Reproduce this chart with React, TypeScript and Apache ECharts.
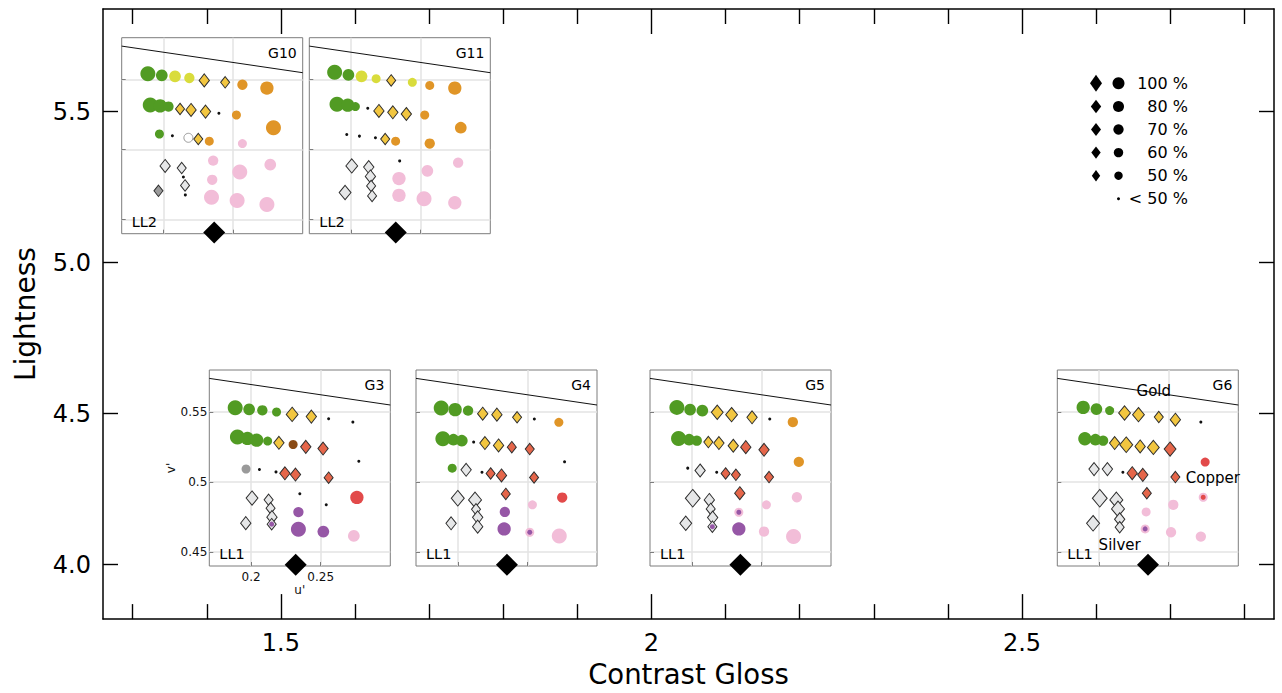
import { useEffect, useRef } from 'react';
import * as echarts from 'echarts';

// ---------- main axes ----------
const xMajorTicks = [1.5, 2, 2.5];
const xMinorTicks = [1.3, 1.4, 1.6, 1.7, 1.8, 1.9, 2.1, 2.2, 2.3, 2.4, 2.6, 2.7, 2.8];
const yMajorTicks = [4.0, 4.5, 5.0, 5.5];

// ---------- conditions (main scatter) ----------
const insetNames = ['G3', 'G4', 'G5', 'G6', 'G10', 'G11'];
const insetLighting = ['LL1', 'LL1', 'LL1', 'LL1', 'LL2', 'LL2'];
const contrastGloss = [1.52, 1.805, 2.12, 2.67, 1.41, 1.655];
const lightness = [4.0, 4.0, 4.0, 4.0, 5.1, 5.1];

// ---------- inset (u', v') axes ----------
const insetUTicks = [0.2, 0.25];
const insetVTicks = [0.45, 0.5, 0.55];
const locusLine = [[0.17, 0.574], [0.30, 0.555]];

// [u', v', kind, percent level]
const g3Points = [
  [0.1886, 0.5531, 'G', 100], [0.1986, 0.5519, 'G', 70], [0.2081, 0.5512, 'G', 60], [0.2183, 0.55, 'G', 50],
  [0.2295, 0.5483, 'd', 70], [0.2433, 0.5467, 'd', 60], [0.2557, 0.5452, '.', 0], [0.2731, 0.5428, '.', 0],
  [0.1902, 0.5321, 'G', 100], [0.1974, 0.5311, 'G', 80], [0.204, 0.5299, 'G', 80], [0.2119, 0.5292, 'G', 50],
  [0.22, 0.528, 'd', 60], [0.2302, 0.5268, 'B', 50], [0.2393, 0.5251, 'r', 60], [0.2517, 0.5239, 'r', 60],
  [0.2774, 0.5148, '.', 0],
  [0.1964, 0.5093, 'A', 50], [0.206, 0.5089, '.', 0], [0.2179, 0.5072, '.', 0], [0.2243, 0.5062, 'r', 60],
  [0.2319, 0.5053, 'r', 60], [0.2557, 0.5031, 'r', 50],
  [0.2007, 0.4885, 's', 70], [0.2126, 0.4873, 's', 50], [0.214, 0.4813, 's', 50], [0.215, 0.4749, 's', 60],
  [0.2148, 0.4699, 'sP', 50], [0.1962, 0.4706, 's', 60], [0.235, 0.4916, '.', 0], [0.254, 0.4837, '.', 0],
  [0.276, 0.489, 'R', 80], [0.234, 0.4785, 'P', 60], [0.234, 0.4663, 'P', 100], [0.2519, 0.4646, 'P', 70],
  [0.2738, 0.4615, 'K', 70],
];
const g4Points = [
  [0.1881, 0.5529, 'G', 100], [0.1981, 0.5517, 'G', 80], [0.2074, 0.551, 'G', 60], [0.2179, 0.5488, 'd', 60],
  [0.2281, 0.5481, 'd', 60], [0.2426, 0.5462, 'd', 50], [0.255, 0.545, '.', 0], [0.2726, 0.5426, 'O', 50],
  [0.1893, 0.5309, 'G', 100], [0.1969, 0.5302, 'G', 70], [0.2029, 0.5295, 'G', 70], [0.2114, 0.5285, '.', 0],
  [0.2195, 0.5278, 'd', 60], [0.2293, 0.5261, 'd', 60], [0.2388, 0.5249, 'r', 50], [0.2517, 0.5235, 'r', 50],
  [0.2767, 0.5144, '.', 0],
  [0.196, 0.5099, 'G', 50], [0.206, 0.5087, 's', 60], [0.2174, 0.507, '.', 0], [0.2236, 0.5061, 'r', 50],
  [0.2314, 0.5047, 'r', 60], [0.2548, 0.5032, 'r', 50],
  [0.2, 0.4884, 's', 80], [0.2124, 0.4872, 's', 80], [0.2131, 0.4805, 's', 50], [0.2143, 0.4748, 's', 60],
  [0.2143, 0.4681, 's', 60], [0.1952, 0.4705, 's', 60], [0.2345, 0.4915, 'r', 50], [0.275, 0.4889, 'R', 60],
  [0.2536, 0.4837, 'K', 50], [0.2338, 0.4786, 'P', 60], [0.2333, 0.4665, 'P', 80], [0.2517, 0.4641, 'KP', 50],
  [0.2729, 0.4615, 'K', 100],
];
const g5Points = [
  [0.1893, 0.5533, 'G', 100], [0.1988, 0.5517, 'G', 70], [0.2076, 0.551, 'G', 70], [0.2183, 0.5498, 'd', 70],
  [0.2286, 0.5481, 'd', 70], [0.2433, 0.5462, 'd', 60], [0.256, 0.545, '.', 0], [0.2726, 0.5428, 'O', 60],
  [0.1905, 0.5311, 'G', 100], [0.1981, 0.5302, 'G', 70], [0.2036, 0.5295, 'G', 60], [0.2119, 0.5285, 'd', 50],
  [0.2195, 0.5278, 'd', 60], [0.2298, 0.5259, 'd', 60], [0.2388, 0.5249, 'r', 60], [0.2519, 0.523, 'r', 60],
  [0.2769, 0.5144, 'O', 60],
  [0.1971, 0.5099, '.', 0], [0.206, 0.5082, 's', 60], [0.2179, 0.507, '.', 0], [0.2243, 0.5061, 'r', 50],
  [0.2317, 0.5051, 'r', 50], [0.2555, 0.5035, 'r', 50],
  [0.2007, 0.4884, 's', 100], [0.2126, 0.4872, 's', 60], [0.2136, 0.4808, 's', 50], [0.215, 0.4746, 's', 60],
  [0.2148, 0.4681, 'sP', 50], [0.1957, 0.4705, 's', 70], [0.2345, 0.492, 'r', 60], [0.2536, 0.4837, 'K', 50],
  [0.2755, 0.4891, 'K', 60], [0.2338, 0.4784, 'KP', 50], [0.2338, 0.4665, 'P', 80], [0.2519, 0.4646, 'K', 60],
  [0.2731, 0.461, 'K', 100],
];
const g6Points = [
  [0.1886, 0.5533, 'G', 80], [0.1981, 0.5521, 'G', 70], [0.2076, 0.551, 'G', 50], [0.2183, 0.5493, 'd', 70],
  [0.2283, 0.5481, 'd', 70], [0.2429, 0.5464, 'd', 50], [0.2548, 0.5445, 'd', 60], [0.2731, 0.5428, '.', 0],
  [0.1898, 0.5309, 'G', 80], [0.1974, 0.5302, 'G', 70], [0.2029, 0.5295, 'G', 60], [0.2112, 0.5278, 'd', 60],
  [0.2195, 0.5266, 'd', 80], [0.2295, 0.5254, 'd', 60], [0.239, 0.5247, 'd', 70], [0.251, 0.5235, 'r', 70],
  [0.2762, 0.5142, 'R', 50],
  [0.1964, 0.5092, 's', 60], [0.206, 0.5092, 's', 60], [0.2171, 0.507, '.', 0], [0.2238, 0.5063, 'r', 60],
  [0.2314, 0.5051, 'r', 60], [0.2548, 0.5035, 'r', 50],
  [0.2005, 0.4884, 's', 100], [0.2124, 0.4872, 's', 80], [0.2136, 0.4808, 's', 80], [0.2148, 0.4734, 's', 60],
  [0.2148, 0.4677, 's', 50], [0.1957, 0.4705, 's', 80], [0.2343, 0.492, 'r', 50], [0.2748, 0.4891, 'KR', 50],
  [0.2533, 0.4837, 'K', 60], [0.2338, 0.4786, 'K', 50], [0.2331, 0.4665, 'KP', 50], [0.2517, 0.4641, 'K', 60],
  [0.2731, 0.461, 'K', 60],
];
const g10Points = [
  [0.1888, 0.5543, 'G', 100], [0.1988, 0.5531, 'G', 70], [0.2083, 0.5524, 'Y', 70], [0.2186, 0.5512, 'Y', 60],
  [0.2293, 0.5495, 'd', 60], [0.2443, 0.5481, 'd', 50], [0.2567, 0.5464, 'O', 60], [0.2743, 0.544, 'O', 80],
  [0.1905, 0.532, 'G', 100], [0.1976, 0.5313, 'G', 80], [0.2036, 0.5308, 'G', 60], [0.2119, 0.5291, 'd', 50],
  [0.2198, 0.5284, 'd', 60], [0.2302, 0.5272, 'd', 60], [0.2398, 0.526, '.', 0], [0.2524, 0.5248, 'O', 50],
  [0.279, 0.5157, 'O', 100],
  [0.1971, 0.5112, 'G', 50], [0.2064, 0.51, '.', 0], [0.2179, 0.5085, 'W', 50], [0.225, 0.5076, 'd', 50],
  [0.2329, 0.5061, 'O', 50], [0.2567, 0.5044, 'K', 50],
  [0.2012, 0.4884, 's', 60], [0.2131, 0.4869, 's', 50], [0.2143, 0.4805, '.', 0], [0.2155, 0.4745, 's', 50],
  [0.2157, 0.4677, '.', 0], [0.1964, 0.4706, 'k', 50], [0.2357, 0.4922, 'K', 60], [0.2548, 0.4841, 'K', 100],
  [0.2767, 0.4893, 'K', 70], [0.235, 0.4785, 'K', 60], [0.2345, 0.4661, 'K', 100], [0.2529, 0.4637, 'K', 100],
  [0.2743, 0.4608, 'K', 100],
];
const g11Points = [
  [0.1882, 0.5553, 'G', 100], [0.1981, 0.5534, 'G', 70], [0.2075, 0.5524, 'Y', 70], [0.218, 0.5507, 'Y', 50],
  [0.2288, 0.5495, 'd', 50], [0.244, 0.5481, 'Y', 50], [0.2565, 0.5459, 'O', 50], [0.2745, 0.544, 'O', 80],
  [0.1899, 0.5325, 'G', 100], [0.1976, 0.5318, 'G', 80], [0.2031, 0.5308, 'G', 50], [0.212, 0.5296, '.', 0],
  [0.22, 0.5277, 'd', 60], [0.23, 0.5267, 'd', 60], [0.2397, 0.5255, 'd', 60], [0.2529, 0.5248, 'O', 50],
  [0.2788, 0.5157, 'O', 70],
  [0.1969, 0.5109, '.', 0], [0.206, 0.5097, '.', 0], [0.2175, 0.5085, '.', 0], [0.2245, 0.5076, 'd', 50],
  [0.232, 0.5061, 'O', 50], [0.2565, 0.5044, 'O', 60],
  [0.2349, 0.492, '.', 0], [0.2005, 0.4884, 's', 70], [0.2127, 0.4876, 's', 60], [0.2139, 0.4809, 's', 60],
  [0.2144, 0.4741, 's', 50], [0.2151, 0.467, 's', 50], [0.1957, 0.4694, 's', 70],
  [0.2548, 0.4849, 'K', 70], [0.2769, 0.4907, 'K', 60], [0.2344, 0.4794, 'K', 80], [0.2344, 0.4674, 'K', 80],
  [0.2524, 0.465, 'K', 100], [0.2745, 0.4621, 'K', 80],
];
const insetPoints = [g3Points, g4Points, g5Points, g6Points, g10Points, g11Points];

const g6Annotations = [
  ['Gold', 0.2393, 0.5648],
  ['Copper', 0.2817, 0.5027],
  ['Silver', 0.2148, 0.455],
];

const legendLabels = ['100 %', '80 %', '70 %', '60 %', '50 %', '< 50 %'];
const legendLevels = [100, 80, 70, 60, 50, 0];

// ---------- layout & style ----------
const FONT = "'DejaVu Sans', 'Liberation Sans', sans-serif";
const MAIN = { left: 103, top: 9, width: 1171, height: 612 };
const INSET_W = 181;
const INSET_H = 196;
const insetBoxes = [
  [209.3, 370], [416, 370], [650, 370], [1057.3, 370], [121.7, 37.7], [309.3, 37.7],
];

const kindStyle: Record<string, any> = {
  G: { shape: 'circle', fill: '#519b23' },
  Y: { shape: 'circle', fill: '#d9dc3c' },
  O: { shape: 'circle', fill: '#e09527' },
  B: { shape: 'circle', fill: '#8a4a14' },
  R: { shape: 'circle', fill: '#e24a4a' },
  P: { shape: 'circle', fill: '#9657a6' },
  K: { shape: 'circle', fill: '#f2bdd8' },
  A: { shape: 'circle', fill: '#9a9a9a' },
  W: { shape: 'circle', fill: '#ffffff', stroke: '#9a9a9a' },
  d: { shape: 'diamond', fill: '#f2c640', stroke: '#2e2e2e' },
  r: { shape: 'diamond', fill: '#e5664a', stroke: '#2e2e2e' },
  s: { shape: 'diamond', fill: '#e6e7e8', stroke: '#2e2e2e' },
  k: { shape: 'diamond', fill: '#9b9b9b', stroke: '#2e2e2e' },
  '.': { shape: 'circle', fill: '#111111' },
};
const compositeKinds: Record<string, string[]> = { sP: ['s', 'P'], KP: ['K', 'P'], KR: ['K', 'R'] };
const circleSize: Record<number, number> = { 100: 15, 80: 13.3, 70: 11.7, 60: 10.3, 50: 9, 0: 3 };
const diamondSize: Record<number, number[]> = {
  100: [14.8, 17.6], 80: [13, 15.6], 70: [11.8, 14.3], 60: [10.3, 13], 50: [9, 11.4], 0: [3, 3],
};

function markItem(u: number, v: number, kind: string, level: number) {
  const st = kindStyle[kind];
  const size = kind === '.' ? 3 : st.shape === 'diamond' ? diamondSize[level] : circleSize[level];
  return {
    value: [u, v],
    symbol: st.shape,
    symbolSize: size,
    itemStyle: {
      color: st.fill,
      borderColor: st.stroke || 'transparent',
      borderWidth: st.stroke ? 1 : 0,
      opacity: 1,
    },
  };
}

function buildOption() {
  const grids: any[] = [{ ...MAIN, show: false }];
  const xAxes: any[] = [];
  const yAxes: any[] = [];
  const series: any[] = [];
  const graphics: any[] = [];

  const tickLine = { color: '#000', width: 1.4 };
  const mkX = (position: string, ticks: number[], len: number, line: boolean, labels: boolean) => ({
    type: 'value', gridIndex: 0, position, min: 1.26, max: 2.84,
    axisLine: { show: line, onZero: false, lineStyle: { color: '#000', width: 1.5 } },
    axisTick: { show: true, inside: true, length: len, lineStyle: tickLine, customValues: ticks },
    axisLabel: labels
      ? { show: true, customValues: ticks, fontSize: 24, color: '#000', fontFamily: FONT, margin: 12 }
      : { show: false },
    splitLine: { show: false },
  });
  xAxes.push({
    ...mkX('bottom', xMajorTicks, 25, true, true),
    name: 'Contrast Gloss', nameLocation: 'middle', nameGap: 40,
    nameTextStyle: { fontSize: 27.5, color: '#000', fontFamily: FONT },
  });
  xAxes.push(mkX('bottom', xMinorTicks, 15, false, false));
  xAxes.push(mkX('top', xMajorTicks, 25, true, false));
  xAxes.push(mkX('top', xMinorTicks, 15, false, false));

  const mkY = (position: string, labels: boolean) => ({
    type: 'value', gridIndex: 0, position, min: 3.82, max: 5.84,
    axisLine: { show: true, onZero: false, lineStyle: { color: '#000', width: 1.5 } },
    axisTick: { show: true, inside: true, length: 15, lineStyle: tickLine, customValues: yMajorTicks },
    axisLabel: labels
      ? {
          show: true, customValues: yMajorTicks, fontSize: 24, color: '#000', fontFamily: FONT, margin: 12,
          formatter: (v: number) => v.toFixed(1),
        }
      : { show: false },
    splitLine: { show: false },
  });
  yAxes.push({
    ...mkY('left', true),
    name: 'Lightness', nameLocation: 'middle', nameGap: 64, nameRotate: 90,
    nameTextStyle: { fontSize: 28, color: '#000', fontFamily: FONT },
  });
  yAxes.push(mkY('right', false));

  insetNames.forEach((name, i) => {
    const [left, top] = insetBoxes[i];
    const gi = i + 1;
    const showLabels = i === 0;
    grids.push({
      left, top, width: INSET_W, height: INSET_H, show: true,
      backgroundColor: '#ffffff', borderColor: '#7d7d7d', borderWidth: 1,
    });
    xAxes.push({
      type: 'value', gridIndex: gi, position: 'bottom', min: 0.17, max: 0.30,
      axisLine: { show: false },
      axisTick: { show: true, inside: true, length: 4, lineStyle: { color: '#7d7d7d' }, customValues: insetUTicks },
      axisLabel: showLabels
        ? { show: true, customValues: insetUTicks, fontSize: 12, color: '#111', fontFamily: FONT, margin: 5 }
        : { show: false },
      splitLine: { show: true, lineStyle: { color: '#e3e3e3', width: 1.5 } },
      name: showLabels ? "u'" : '', nameLocation: 'middle', nameGap: 17,
      nameTextStyle: { fontSize: 12, color: '#111', fontFamily: FONT },
    });
    yAxes.push({
      type: 'value', gridIndex: gi, position: 'left', min: 0.44, max: 0.58,
      axisLine: { show: false },
      axisTick: { show: true, inside: true, length: 4, lineStyle: { color: '#7d7d7d' }, customValues: insetVTicks },
      axisLabel: showLabels
        ? { show: true, customValues: insetVTicks, fontSize: 12, color: '#111', fontFamily: FONT, margin: 2 }
        : { show: false },
      splitLine: { show: true, lineStyle: { color: '#e3e3e3', width: 1.5 } },
      name: showLabels ? "v'" : '', nameLocation: 'middle', nameGap: 18, nameRotate: 90,
      nameTextStyle: { fontSize: 12, color: '#111', fontFamily: FONT },
    });
    const xi = 4 + i;
    const yi = 2 + i;
    series.push({
      type: 'line', xAxisIndex: xi, yAxisIndex: yi, data: locusLine, symbol: 'none', silent: true,
      lineStyle: { color: '#111', width: 1 }, z: 3,
    });
    const outer: any[] = [];
    const inner: any[] = [];
    insetPoints[i].forEach((p: any[]) => {
      const [u, v, kind, level] = p;
      const comp = compositeKinds[kind];
      if (comp) {
        outer.push(markItem(u, v, comp[0], level));
        inner.push({ ...markItem(u, v, comp[1], level), symbolSize: 5 });
      } else {
        outer.push(markItem(u, v, kind, level));
      }
    });
    series.push({ type: 'scatter', xAxisIndex: xi, yAxisIndex: yi, data: outer, silent: true, z: 4 });
    if (inner.length) {
      series.push({ type: 'scatter', xAxisIndex: xi, yAxisIndex: yi, data: inner, silent: true, z: 5 });
    }
    if (name === 'G6') {
      series.push({
        type: 'scatter', xAxisIndex: xi, yAxisIndex: yi, silent: true, z: 6, symbolSize: 0,
        itemStyle: { opacity: 1 },
        data: g6Annotations.map((a) => ({ name: a[0], value: [a[1], a[2]] })),
        label: {
          show: true, position: 'inside', formatter: '{b}', fontSize: 15, color: '#000', fontFamily: FONT,
          opacity: 1,
        },
      });
    }
    graphics.push({
      type: 'text', x: left + INSET_W - 6, y: top + 15, z: 50,
      style: { text: name, fontSize: 14, fill: '#000', fontFamily: FONT, align: 'right', verticalAlign: 'middle' },
    });
    graphics.push({
      type: 'text', x: left + 10, y: top + INSET_H - 12, z: 50,
      style: { text: insetLighting[i], fontSize: 14.5, fill: '#000', fontFamily: FONT, align: 'left', verticalAlign: 'middle' },
    });
  });

  series.push({
    type: 'scatter', xAxisIndex: 0, yAxisIndex: 0, silent: true, z: 20,
    data: contrastGloss.map((x, i) => [x, lightness[i]]),
    symbol: 'diamond', symbolSize: 22, itemStyle: { color: '#000', opacity: 1 },
  });

  const legDia = [[12, 17], [10.4, 13.5], [10, 13], [9.4, 12.4], [8.4, 11.4]];
  const legCirc = [12, 11, 10.3, 9.4, 8.4, 3];
  legendLabels.forEach((lab, i) => {
    const y = 83.3 + i * 23.1;
    if (legendLevels[i] > 0) {
      const [w, h] = legDia[i];
      const x = 1096;
      graphics.push({
        type: 'polygon', z: 50,
        shape: { points: [[x, y - h / 2], [x + w / 2, y], [x, y + h / 2], [x - w / 2, y]] },
        style: { fill: '#000' },
      });
    }
    graphics.push({ type: 'circle', z: 50, shape: { cx: 1118.5, cy: y, r: legCirc[i] / 2 }, style: { fill: '#000' } });
    graphics.push({
      type: 'text', x: 1188, y, z: 50,
      style: { text: lab, fontSize: 16, fill: '#000', fontFamily: FONT, align: 'right', verticalAlign: 'middle' },
    });
  });

  return {
    animation: false,
    backgroundColor: '#ffffff',
    textStyle: { fontFamily: FONT },
    grid: grids,
    xAxis: xAxes,
    yAxis: yAxes,
    series,
    graphic: graphics,
  };
}

export default function App() {
  const ref = useRef<HTMLDivElement>(null);
  useEffect(() => {
    if (!ref.current) return;
    const chart = echarts.init(ref.current, undefined, { renderer: 'svg' });
    chart.setOption(buildOption() as any);
    return () => chart.dispose();
  }, []);
  return (
    <div
      ref={ref}
      style={{ position: 'absolute', left: 0, top: 0, width: 1282, height: 693, background: '#fff' }}
    />
  );
}
